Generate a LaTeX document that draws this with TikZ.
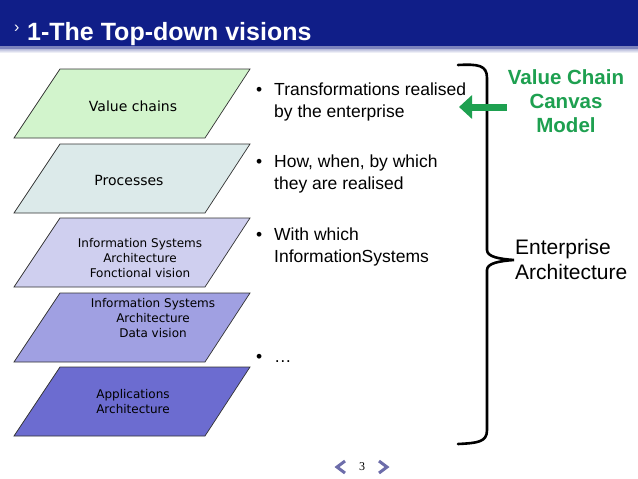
\documentclass[tikz,border=0pt]{standalone}
\usepackage{fontspec}
\setmainfont{Liberation Sans}
\newfontfamily\layerfont{DejaVu Sans}
\newfontfamily\pagefont{Liberation Serif}
\usetikzlibrary{arrows.meta,positioning}
\definecolor{EANavy}{HTML}{101E88}
\definecolor{EAGreen}{HTML}{1EA050}
\definecolor{EAValue}{HTML}{D2F4CC}
\definecolor{EAProc}{HTML}{DCEAEA}
\definecolor{EAFunc}{HTML}{CFCFEF}
\definecolor{EAData}{HTML}{A0A0E2}
\definecolor{EAApps}{HTML}{6C6CD0}
\definecolor{EANav}{HTML}{6D6DAA}

\begin{document}
\begin{tikzpicture}[x=1pt,y=-1pt,
    layer/.style={draw=black!80,line width=0.7pt},
    layertext/.style={font=\layerfont\fontsize{14}{16}\selectfont,align=center,inner sep=0pt},
    smalllayer/.style={layertext,font=\layerfont\fontsize{12}{15}\selectfont},
    item/.style={font=\fontsize{17.5}{21.5}\selectfont,align=left,anchor=base west,inner sep=0pt},
    model/.style={font=\bfseries\fontsize{20.5}{24}\selectfont,text=EAGreen,align=center,inner sep=1pt},
    archi/.style={font=\fontsize{21}{25}\selectfont,align=left,anchor=base west,inner sep=0pt},
    brace/.style={line width=2.6pt,line cap=round},
    greenarrow/.style={-{Triangle[length=13pt,width=23pt]},line width=7pt,draw=EAGreen},
    nav/.style={line width=3pt,draw=EANav}
  ]
    \useasboundingbox (0,0) rectangle (638,479);
    \fill[white] (0,0) rectangle (638,479);
    \fill[EANavy] (0,0) rectangle (638,46);
    \fill[EANavy!55] (0,46) rectangle (638,49);
    \shade[top color=EANavy!30,bottom color=white] (0,49) rectangle (638,53);
    \node[font=\fontsize{16}{16}\selectfont,text=white,anchor=base west,inner sep=0pt] (chev) at (14,32) {›};
    \node[font=\bfseries\fontsize{25}{28}\selectfont,text=white,anchor=base west,inner sep=0pt] (title) at (27,41) {1-The Top-down visions};

    \foreach \top/\col in {69/EAValue,144/EAProc,218/EAFunc,293/EAData,367/EAApps}
      \draw[layer,fill=\col] (60,\top) -- ++(190,0) -- ++(-45,69) -- ++(-191,0) -- cycle;
    \node[layertext] (valuechains) at (133,106) {Value chains};
    \node[layertext] (processes) at (129,180) {Processes};
    \node[smalllayer] (isfunc) at (140,258) {Information Systems\\Architecture\\Fonctional vision};
    \node[smalllayer] (isdata) at (153,318) {Information Systems\\Architecture\\Data vision};
    \node[smalllayer] (apps) at (133,402) {Applications\\Architecture};

    \node[item] (transf) at (274,117) {\llap{\textbullet\hspace{12pt}}Transformations realised\\by the enterprise};
    \node[item] (howwhen) at (274,189) {\llap{\textbullet\hspace{12pt}}How, when, by which\\they are realised};
    \node[item] (withis) at (274,262) {\llap{\textbullet\hspace{12pt}}With which\\InformationSystems};
    \node[item] (etc) at (274,362) {\llap{\textbullet\hspace{12pt}}…};

    \draw[brace] (458,65) .. controls (478,64) and (487,65) .. (487,78) -- (487,250)
      .. controls (487,257) and (500,259) .. (514,260)
      .. controls (500,261) and (487,263) .. (487,270) -- (487,430)
      .. controls (487,442) and (478,443) .. (458,444);

    \node[model] (vcmodel) at (566,101) {Value Chain\\Canvas\\Model};
    \coordinate (vctip) at (459,107);
    \draw[greenarrow] (vcmodel.west |- vctip) -- (vctip);
    \node[archi] (entarch) at (515,279) {Enterprise\\Architecture};

    \node[font=\pagefont\fontsize{12}{12}\selectfont,inner sep=0pt] (pageno) at (362,467) {3};
    \draw[nav] (345,461) -- (337,467) -- (345,473);
    \draw[nav] (379,461) -- (387,467) -- (379,473);
  \end{tikzpicture}
\end{document}
